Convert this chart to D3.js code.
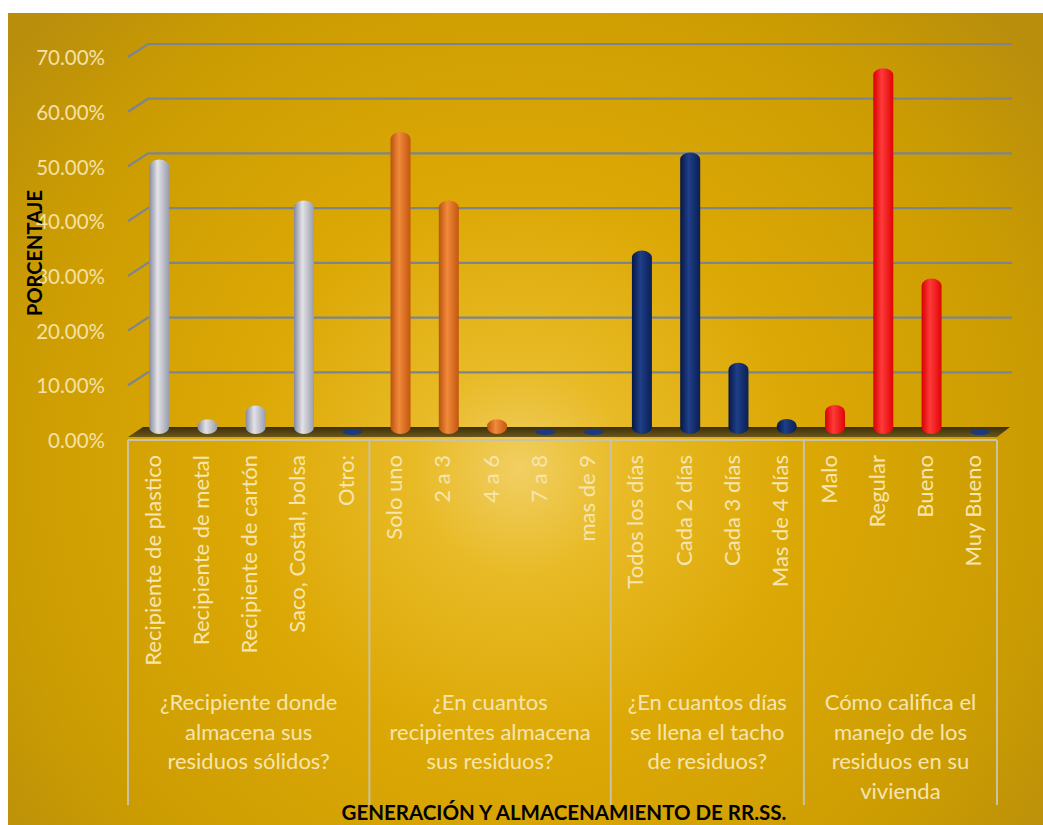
<!DOCTYPE html>
<html>
<head>
<meta charset="utf-8">
<script src="https://cdn.jsdelivr.net/npm/d3@7"></script>
<style>
  html, body { margin: 0; padding: 0; background: #ffffff; }
  svg { display: block; }
</style>
</head>
<body>
<svg id="chart" width="1043" height="825"></svg>
<script>
// ---- data -------------------------------------------------------------
const categories = [
  "Recipiente de plastico", "Recipiente de metal", "Recipiente de cartón", "Saco, Costal, bolsa", "Otro:",
  "Solo uno", "2 a 3", "4 a 6", "7 a 8", "mas de 9",
  "Todos los días", "Cada 2 días", "Cada 3 días", "Mas de 4 días",
  "Malo", "Regular", "Bueno", "Muy Bueno"
];
const groupOf = [0,0,0,0,0, 1,1,1,1,1, 2,2,2,2, 3,3,3,3];
const values = [
  50.00, 2.50, 5.00, 42.50, 0,
  55.00, 42.50, 2.50, 0, 0,
  33.33, 51.28, 12.82, 2.56,
  5.13, 66.67, 28.21, 0
];
const groupLabels = [
  ["¿Recipiente donde", "almacena sus", "residuos sólidos?"],
  ["¿En cuantos", "recipientes almacena", "sus residuos?"],
  ["¿En cuantos días", "se llena el tacho", "de residuos?"],
  ["Cómo califica el", "manejo de los", "residuos en su", "vivienda"]
];
const groupColors = [
  ["#88899a", "#e2e2e8", "#9a9ca9"],
  ["#b9520c", "#f28a3c", "#c2560d"],
  ["#061745", "#1f3f88", "#0a1f55"],
  ["#d80000", "#ff3a3a", "#e00404"]
];
const yTicks = [0, 10, 20, 30, 40, 50, 60, 70];
const yTitle = "PORCENTAJE";
const xTitle = "GENERACIÓN Y ALMACENAMIENTO DE RR.SS.";

// ---- layout -------------------------------------------------------------
const svg = d3.select("#chart");
const font = "Lato, 'Open Sans', sans-serif";
const depthX = 15;                   // floor depth
const wallX = 20, wallY = 13;        // side-wall tick depth
const barShift = 0.35;               // bars sit part-way into the floor

const x = d3.scaleBand().domain(d3.range(categories.length)).range([128, 997]).padding(0);
const yFront = d3.scaleLinear().domain([0, 70]).range([440, 57]);
const yBack = v => yFront(v) - wallY;
const yBar = v => yFront(v) - wallY * barShift - 2.5;
const barCx = i => x(i) + x.bandwidth() / 2 + wallX * barShift;

const defs = svg.append("defs");

// background glow
const bg = defs.append("radialGradient").attr("id", "bgGlow")
  .attr("gradientUnits", "userSpaceOnUse")
  .attr("cx", 520).attr("cy", 470).attr("r", 660);
[[0, "#f1cf62"], [0.16, "#e8ba26"], [0.42, "#dca805"], [0.78, "#cb9c02"], [1, "#b98e0c"]]
  .forEach(([o, c]) => bg.append("stop").attr("offset", o).attr("stop-color", c));

svg.append("rect").attr("x", 8).attr("y", 13).attr("width", 1035).attr("height", 812)
  .attr("fill", "url(#bgGlow)");

// cylinder shading for each group
groupColors.forEach((cols, g) => {
  const lg = defs.append("linearGradient").attr("id", "bar" + g)
    .attr("x1", 0).attr("x2", 1).attr("y1", 0).attr("y2", 0);
  lg.append("stop").attr("offset", 0).attr("stop-color", cols[0]);
  lg.append("stop").attr("offset", 0.42).attr("stop-color", cols[1]);
  lg.append("stop").attr("offset", 1).attr("stop-color", cols[2]);
});

const floorGrad = defs.append("linearGradient").attr("id", "floorGrad")
  .attr("x1", 0).attr("x2", 0).attr("y1", 0).attr("y2", 1);
floorGrad.append("stop").attr("offset", 0).attr("stop-color", "#3c3009");
floorGrad.append("stop").attr("offset", 1).attr("stop-color", "#6b561a");

// ---- gridlines (back wall + side wall) ----------------------------------
const x0 = x.range()[0], x1 = x.range()[1];
const grid = svg.append("g");
yTicks.filter(t => t > 0).forEach(t => {
  grid.append("path")
    .attr("d", `M${x0},${yFront(t)} L${x0 + wallX},${yBack(t)} L${x1 + wallX - 5},${yBack(t)}`)
    .attr("fill", "none").attr("stroke", "#7b8590").attr("stroke-width", 2.2);
});

// tick labels
svg.append("g").selectAll("text").data(yTicks).join("text")
  .attr("x", 105).attr("y", d => yFront(d) + 3)
  .attr("text-anchor", "end").attr("dominant-baseline", "middle")
  .attr("font-family", font).attr("font-size", 20.5)
  .attr("fill", "#f4e1a6")
  .text(d => d3.format(".2%")(d / 100));

// ---- floor ---------------------------------------------------------------
const fy = yFront(0);
svg.append("path")
  .attr("d", `M${x0},${fy - 3} L${x0 + depthX},${fy - 13} L${x1 + depthX - 2},${fy - 13} L${x1},${fy - 3} Z`)
  .attr("fill", "url(#floorGrad)");

// ---- bars -----------------------------------------------------------------
const barW = 20;
const bars = svg.append("g");
values.forEach((v, i) => {
  const cx = barCx(i);
  if (v > 0) {
    const top = yBar(v), base = yBar(0) + 1;
    bars.append("rect")
      .attr("x", cx - barW / 2).attr("y", top)
      .attr("width", barW).attr("height", base - top)
      .attr("rx", barW / 2).attr("ry", Math.min(7, (base - top) / 2))
      .attr("fill", `url(#bar${groupOf[i]})`);
  } else {
    bars.append("ellipse")
      .attr("cx", cx).attr("cy", yBar(0) - 1)
      .attr("rx", 10).attr("ry", 3)
      .attr("fill", "#1b3a7c");
  }
});

// ---- category axis box ------------------------------------------------------
const boxTop = 440, boxBottom = 805;
const bounds = [0];
groupOf.forEach((g, i) => { if (i > 0 && g !== groupOf[i - 1]) bounds.push(i); });
bounds.push(categories.length);
const boxLines = svg.append("g").attr("stroke", "#c9c2a4").attr("stroke-width", 2).attr("fill", "none");
boxLines.append("line").attr("x1", x0).attr("x2", x1).attr("y1", boxTop).attr("y2", boxTop);
bounds.forEach(b => {
  const bx = b < categories.length ? x(b) : x1;
  boxLines.append("line").attr("x1", bx).attr("x2", bx).attr("y1", boxTop).attr("y2", boxBottom);
});

// category labels (rotated)
svg.append("g").selectAll("text").data(categories).join("text")
  .attr("transform", (d, i) => `translate(${x(i) + x.bandwidth() / 2},455) rotate(-90)`)
  .attr("text-anchor", "end").attr("dominant-baseline", "central")
  .attr("font-family", font).attr("font-size", 22)
  .attr("fill", "#f6e5b0")
  .text(d => d);

// group labels
groupLabels.forEach((lines, g) => {
  const gx = (x(bounds[g]) + (bounds[g + 1] < categories.length ? x(bounds[g + 1]) : x1)) / 2;
  const t = svg.append("text")
    .attr("text-anchor", "middle")
    .attr("font-family", font).attr("font-size", 22)
    .attr("fill", "#f6e5b0");
  lines.forEach((ln, k) => {
    t.append("tspan").attr("x", gx).attr("y", 710 + k * 29.5).text(ln);
  });
});

// ---- titles -----------------------------------------------------------------
svg.append("text")
  .attr("transform", "translate(42,253) rotate(-90)")
  .attr("text-anchor", "middle")
  .attr("font-family", font).attr("font-weight", "bold").attr("font-size", 20)
  .attr("fill", "#000000")
  .text(yTitle);

svg.append("text")
  .attr("x", 564).attr("y", 820)
  .attr("text-anchor", "middle")
  .attr("font-family", font).attr("font-weight", "bold").attr("font-size", 20.5)
  .attr("fill", "#000000")
  .text(xTitle);
</script>
</body>
</html>
